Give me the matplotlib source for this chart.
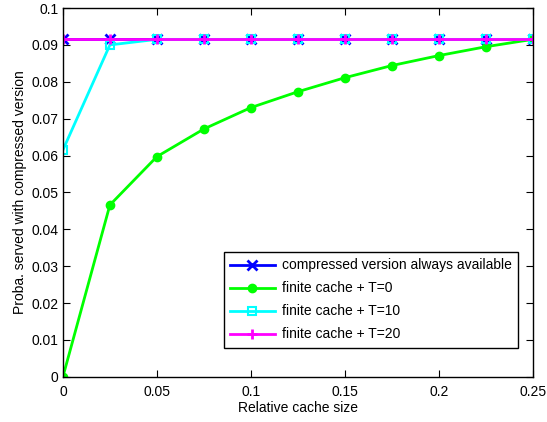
import numpy as np
import matplotlib.pyplot as plt

plt.rcParams['font.family'] = ['Liberation Sans', 'DejaVu Sans']

# data
cache_size = [0, 0.025, 0.05, 0.075, 0.1, 0.125, 0.15, 0.175, 0.2, 0.225, 0.25]
always_avail = [0.0915] * 11
t0 = [0.0, 0.0466, 0.0597, 0.0672, 0.0730, 0.0773, 0.0811, 0.0844, 0.0871, 0.0895, 0.0915]
t10 = [0.0615, 0.0900, 0.0915, 0.0915, 0.0915, 0.0915, 0.0915, 0.0915, 0.0915, 0.0915, 0.0915]
t20 = [0.0915] * 11

labels = ['compressed version always available', 'finite cache + T=0',
          'finite cache + T=10', 'finite cache + T=20']

fig = plt.figure(figsize=(5.47, 4.22), dpi=100)
ax = fig.add_axes([0.115, 0.107, 0.859, 0.874])

ax.plot(cache_size, always_avail, color='#0000ff', marker='x', markersize=7, mew=2, lw=2, label=labels[0])
ax.plot(cache_size, t0, color='#00ff00', marker='o', markersize=6, lw=2, label=labels[1])
ax.plot(cache_size, t10, color='#00ffff', marker='s', markersize=6, mfc='none', mew=1.5, lw=2, label=labels[2])
ax.plot(cache_size, t20, color='#ff00ff', marker='+', markersize=7, mew=2, lw=2, label=labels[3])

ax.set_xlim(0, 0.25)
ax.set_ylim(0, 0.1)
ax.set_xticks(np.arange(0, 0.2501, 0.05))
ax.set_xticklabels(['0', '0.05', '0.1', '0.15', '0.2', '0.25'])
ax.set_yticks(np.arange(0, 0.1001, 0.01))
ax.set_yticklabels(['0', '0.01', '0.02', '0.03', '0.04', '0.05', '0.06', '0.07', '0.08', '0.09', '0.1'])
ax.tick_params(direction='in', top=True, right=True, labelsize=10, length=5, width=0.8)
ax.tick_params(axis='x', pad=6)
ax.tick_params(axis='y', pad=3)
for s in ax.spines.values():
    s.set_linewidth(1.0)
ax.set_xlabel('Relative cache size', fontsize=10, labelpad=1)
ax.set_ylabel('Proba. served with compressed version', fontsize=10, labelpad=3)

leg = ax.legend(loc='lower right', bbox_to_anchor=(0.968, 0.079), fontsize=10, fancybox=False,
                framealpha=1, edgecolor='black', borderaxespad=0, handlelength=3.2,
                labelspacing=0.65, handletextpad=0.5, borderpad=0.45)
leg.get_frame().set_linewidth(1.0)

fig.savefig('out.png', dpi=100)
